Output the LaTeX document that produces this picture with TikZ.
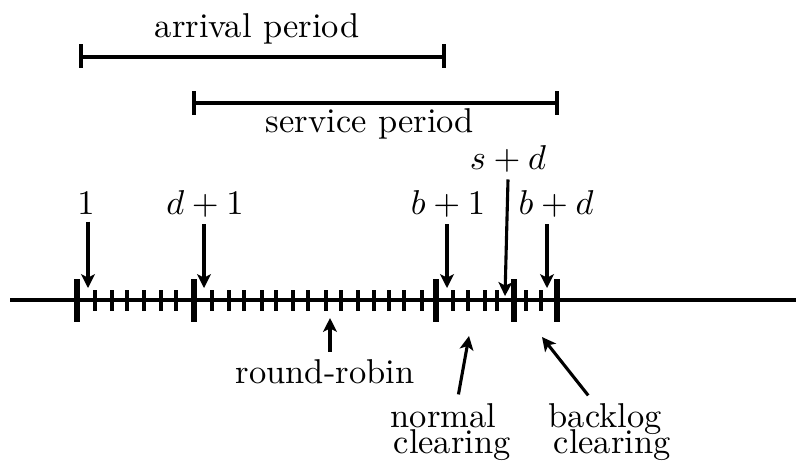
\documentclass[tikz,border=0pt]{standalone}
\usetikzlibrary{arrows.meta}
\begin{document}
\begin{tikzpicture}[x=0.29pt,y=-0.29pt,
  axis/.style={line width=1.1pt},
  tk/.style={line width=1.2pt},
  bigtk/.style={line width=1.8pt},
  arr/.style={line width=0.9pt,-{Stealth[length=4pt,width=4pt,inset=1pt]}},
  bar/.style={line width=1.1pt},
  lbl/.style={inner sep=2pt,anchor=base}]
\useasboundingbox (0,0) rectangle (796,463);
% time axis
\draw[axis] (10,300) -- (796,300);
\foreach \x in {95,112,127,144,161,176,212,229,244,262,276,293,308,326,341,358,374,389,404,422,453,468,485,497,526,541}
  \draw[tk] (\x,290) -- (\x,311);
\foreach \x in {77,194,436,514,557}
  \draw[bigtk] (\x,279) -- (\x,322);
% periods
\draw[bar] (81,57) -- (444,57);
\draw[bar] (81,44) -- (81,68);
\draw[bar] (444,44) -- (444,68);
\node[lbl] (arrp) at (257,37) {arrival period};
\draw[bar] (194,103) -- (557,103);
\draw[bar] (194,91) -- (194,115);
\draw[bar] (557,91) -- (557,115);
\node[lbl] (serp) at (370,132) {service period};
% upper labels
\node[lbl] (l1) at (86,214) {$1$};
\node[lbl] (ld1) at (205,214) {$d+1$};
\node[lbl] (lb1) at (448,214) {$b+1$};
\node[lbl] (lsd) at (508,169) {$s+d$};
\node[lbl] (lbd) at (556,214) {$b+d$};
\coordinate (t1) at (88,288);
\coordinate (td1) at (204,288);
\coordinate (tb1) at (447,288);
\coordinate (tsd) at (505,296);
\coordinate (tbd) at (547,288);
\draw[arr] (t1 |- l1.south) -- (t1);
\draw[arr] (td1 |- ld1.south) -- (td1);
\draw[arr] (tb1 |- lb1.south) -- (tb1);
\draw[arr] (lsd.south) -- (tsd);
\draw[arr] (tbd |- lbd.south) -- (tbd);
% lower labels
\node[lbl] (rr) at (325,383) {round-robin};
\coordinate (trr) at (330,318);
\draw[arr] (trr |- rr.north) -- (trr);
\node[inner sep=0pt,anchor=base west] (nc1) at (390,427) {normal};
\node[inner sep=0pt,anchor=base west] (nc2) at (393,453) {clearing};
\coordinate (tnc) at (469,336);
\draw[arr] ([shift={(15,-8)}]nc1.north) -- (tnc);
\node[inner sep=0pt,anchor=base west] (bc1) at (548,427) {backlog};
\node[inner sep=0pt,anchor=base west] (bc2) at (553,453) {clearing};
\coordinate (tbc) at (542,337);
\draw[arr] ([shift={(-17,-7)}]bc1.north) -- (tbc);
\end{tikzpicture}
\end{document}
